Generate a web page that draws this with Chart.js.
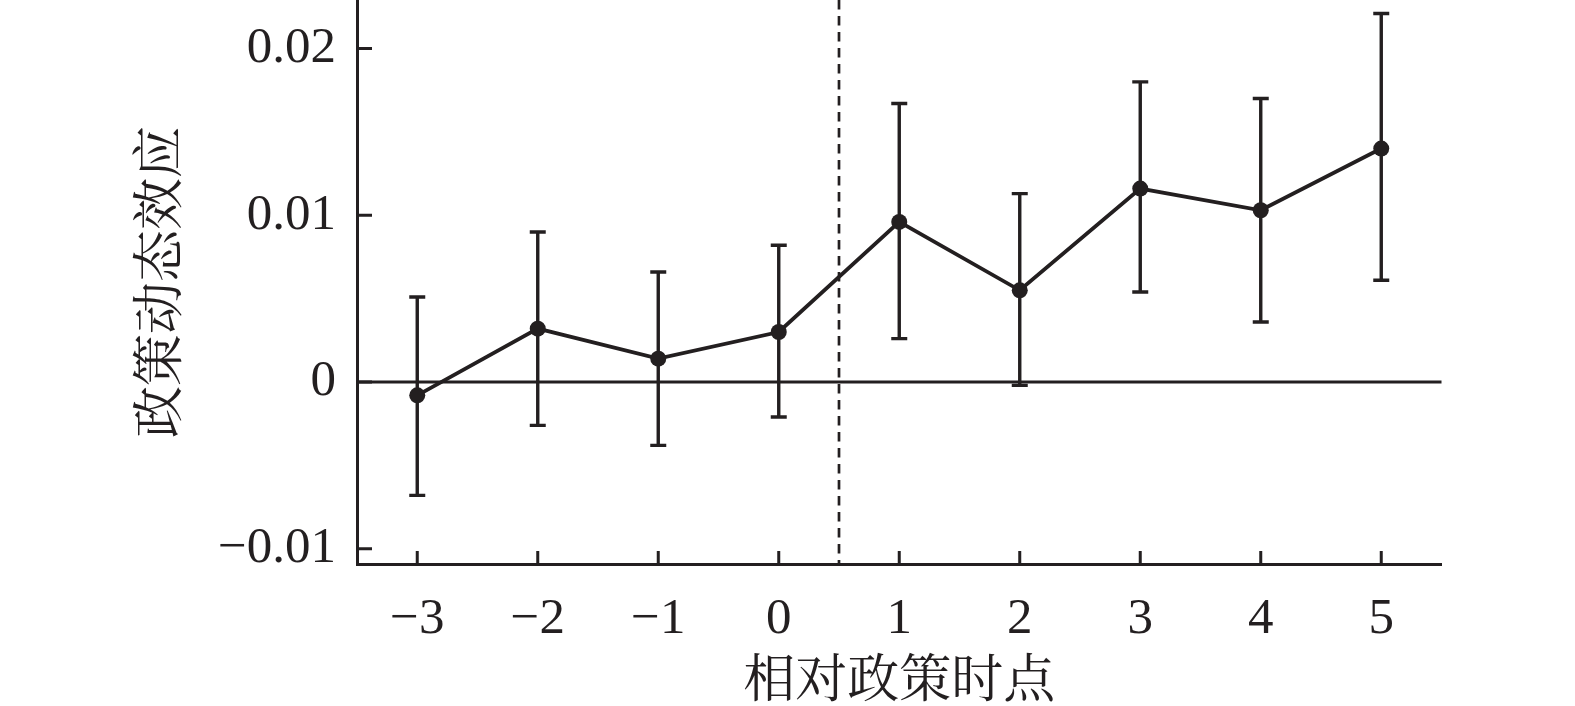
<!DOCTYPE html>
<html>
<head>
<meta charset="utf-8">
<script src="https://cdn.jsdelivr.net/npm/chart.js@4.4.0/dist/chart.umd.min.js"></script>
<style>
html,body{margin:0;padding:0;background:#fff;width:1575px;height:706px;overflow:hidden;}
#wrap{width:1575px;height:706px;position:absolute;left:0;top:0;overflow:hidden;}
canvas{display:block;}
</style>
</head>
<body>
<div id="wrap"><canvas id="c"></canvas></div>
<script>
// relative policy period and estimated dynamic effect with 95% CI
const periods = ["−3", "−2", "−1", "0", "1", "2", "3", "4", "5"];
const effect = [-0.0008, 0.0032, 0.0014, 0.0030, 0.0096, 0.0055, 0.0116, 0.0103, 0.0140];
const upper  = [0.0051, 0.0090, 0.0066, 0.0082, 0.0167, 0.0113, 0.0180, 0.0170, 0.0221];
const lower  = [-0.0068, -0.0026, -0.0038, -0.0021, 0.0026, -0.0002, 0.0054, 0.0036, 0.0061];
const yTicks = [-0.01, 0, 0.01, 0.02];
const yMin = -0.010915, yMax = 0.02291;
const policyAt = 3.5; // dashed line between 0 and 1

const ink = "#231f20";
const serif = '"Liberation Serif", "Noto Serif CJK SC", "Noto Sans CJK SC", serif';

function fmtTick(v){
    if (Math.abs(v) < 1e-12) return "0";
    const s = Math.abs(v).toFixed(2);
    return v < 0 ? "−" + s : s;
}

const marks = {
    id: "marks",
    beforeDatasetsDraw(chart){
        const {ctx, chartArea: a, scales: {x, y}} = chart;
        ctx.save();
        ctx.strokeStyle = ink;
        // zero line
        ctx.lineWidth = 3;
        ctx.beginPath();
        ctx.moveTo(a.left, y.getPixelForValue(0));
        ctx.lineTo(a.right, y.getPixelForValue(0));
        ctx.stroke();
        // policy line
        ctx.setLineDash([9.5, 6.5]);
        ctx.lineWidth = 2.7;
        const px = x.getPixelForValue(policyAt);
        ctx.beginPath();
        ctx.moveTo(px, a.top);
        ctx.lineTo(px, a.bottom);
        ctx.stroke();
        ctx.setLineDash([]);
        // error bars
        ctx.lineWidth = 3.4;
        periods.forEach((p, i) => {
            const cx = x.getPixelForValue(i);
            const t = y.getPixelForValue(upper[i]);
            const b = y.getPixelForValue(lower[i]);
            ctx.beginPath();
            ctx.moveTo(cx, t); ctx.lineTo(cx, b);
            ctx.moveTo(cx - 8, t); ctx.lineTo(cx + 8, t);
            ctx.moveTo(cx - 8, b); ctx.lineTo(cx + 8, b);
            ctx.stroke();
        });
        ctx.restore();
    },
    afterDraw(chart){
        const {ctx, chartArea: a, scales: {x, y}} = chart;
        ctx.save();
        ctx.strokeStyle = ink;
        ctx.lineWidth = 3;
        ctx.beginPath();
        yTicks.forEach(v => {
            const py = y.getPixelForValue(v);
            ctx.moveTo(a.left, py); ctx.lineTo(a.left + 15, py);
        });
        periods.forEach((p, i) => {
            const px = x.getPixelForValue(i);
            ctx.moveTo(px, a.bottom); ctx.lineTo(px, a.bottom - 13);
        });
        ctx.stroke();
        ctx.restore();
    }
};

new Chart(document.getElementById("c"), {
    type: "line",
    data: {
        labels: periods,
        datasets: [{
            data: effect,
            borderColor: ink,
            borderWidth: 3.8,
            pointRadius: 8,
            pointBackgroundColor: ink,
            pointBorderWidth: 0,
            tension: 0,
            clip: false
        }]
    },
    options: {
        responsive: true,
        maintainAspectRatio: false,
        animation: false,
        layout: { autoPadding: false, padding: { left: 0, right: 133.5, top: 0, bottom: 0 } },
        plugins: { legend: { display: false }, tooltip: { enabled: false } },
        scales: {
            x: {
                type: "category",
                offset: true,
                grid: { display: false, drawTicks: false },
                border: { display: true, color: ink, width: 3 },
                ticks: { color: ink, padding: 25, maxRotation: 0, font: { family: serif, size: 51 } },
                title: {
                    display: true, text: "相对政策时点", color: ink,
                    font: { family: serif, size: 52, lineHeight: 0.88 },
                    padding: { top: 0, bottom: 0 }
                },
                afterFit(s){ s.height = 142; s.paddingLeft = 0; s.paddingRight = 0; }
            },
            y: {
                min: yMin, max: yMax,
                grid: { display: false, drawTicks: false },
                border: { display: true, color: ink, width: 3 },
                afterBuildTicks(s){ s.ticks = yTicks.map(v => ({ value: v })); },
                ticks: { color: ink, padding: 21, font: { family: serif, size: 51 }, callback: v => fmtTick(v) },
                title: {
                    display: true, text: "政策动态效应", color: ink,
                    font: { family: serif, size: 52, lineHeight: 1 },
                    padding: { top: 137.5, bottom: 0 }
                },
                afterFit(s){ s.width = 357; s.paddingTop = 0; s.paddingBottom = 0; }
            }
        }
    },
    plugins: [marks]
});
</script>
</body>
</html>
